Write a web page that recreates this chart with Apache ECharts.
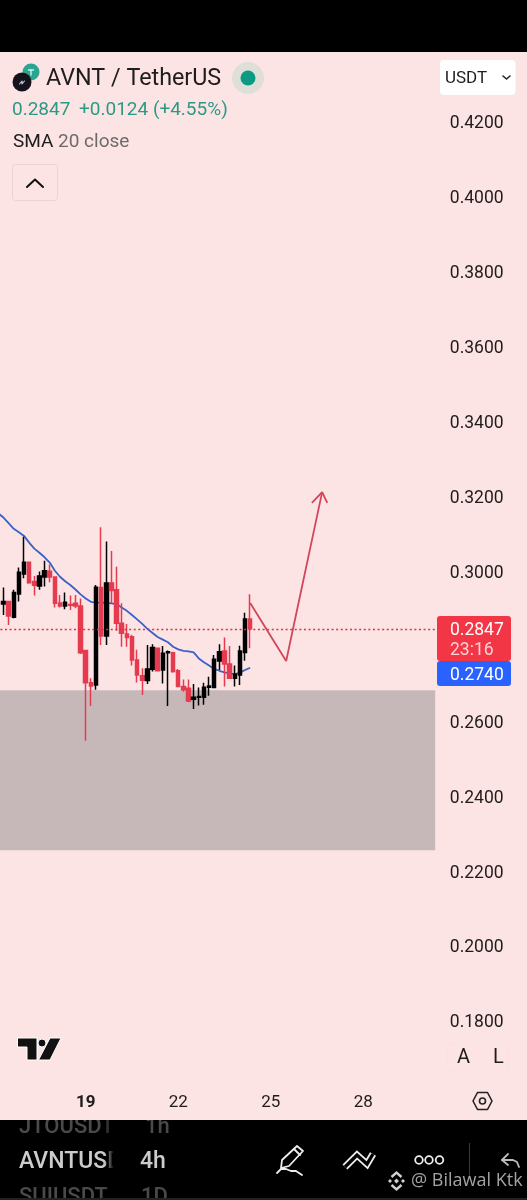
<!DOCTYPE html>
<html><head><meta charset="utf-8">
<style>html,body{margin:0;padding:0;background:#fde4e4}#c{width:527px;height:1200px}</style>
<script src="https://cdn.jsdelivr.net/npm/echarts@6/dist/echarts.min.js"></script>
</head><body><div id="c"></div>
<script>
// index 0 is the partly hidden bar off the left edge
const open  = ['-',0.2913,0.2920,0.2878,0.2940,0.2993,0.3025,0.2973,0.2961,0.2985,0.3001,0.2985,0.2916,0.2908,0.2912,0.2915,0.2908,0.2789,0.2703,0.2697,0.2957,0.2828,0.2969,0.2951,0.2862,0.2833,0.2826,0.2764,0.2722,0.2709,0.2739,0.2795,0.2737,0.2783,0.2783,0.2735,0.2693,0.2688,0.2659,0.2664,0.2664,0.2691,0.2690,0.2761,0.2788,0.2753,0.2715,0.2724,0.2784,0.2873];
const close = ['-',0.2920,0.2881,0.2944,0.2998,0.3025,0.2970,0.2963,0.2988,0.3002,0.2985,0.2915,0.2908,0.2918,0.2910,0.2908,0.2783,0.2703,0.2694,0.2958,0.2828,0.2969,0.2949,0.2862,0.2835,0.2824,0.2764,0.2724,0.2710,0.2740,0.2797,0.2735,0.2782,0.2786,0.2733,0.2693,0.2684,0.2654,0.2664,0.2666,0.2691,0.2694,0.2766,0.2786,0.2753,0.2715,0.2726,0.2788,0.2873,0.2847];
const low   = ['-',0.2884,0.2857,0.2875,0.2920,0.2982,0.2967,0.2936,0.2951,0.2960,0.2971,0.2904,0.2904,0.2899,0.2897,0.2902,0.2780,0.2548,0.2641,0.2684,0.2804,0.2804,0.2915,0.2842,0.2799,0.2799,0.2749,0.2704,0.2670,0.2700,0.2733,0.2734,0.2701,0.2641,0.2730,0.2691,0.2679,0.2651,0.2633,0.2642,0.2644,0.2668,0.2688,0.2737,0.2693,0.2713,0.2693,0.2697,0.2762,0.2795];
const high  = ['-',0.2957,0.2921,0.2951,0.3011,0.3093,0.3025,0.2988,0.3000,0.3029,0.3019,0.2985,0.2937,0.2944,0.2936,0.2937,0.2928,0.2789,0.2715,0.2964,0.3118,0.3080,0.3055,0.3013,0.2915,0.2860,0.2831,0.2791,0.2742,0.2804,0.2806,0.2795,0.2801,0.2789,0.2786,0.2740,0.2712,0.2712,0.2700,0.2690,0.2703,0.2719,0.2777,0.2806,0.2824,0.2801,0.2749,0.2802,0.2890,0.2939];
const sma   = [0.3155,0.3144,0.3129,0.3114,0.3105,0.3095,0.3077,0.3061,0.3050,0.3038,0.3024,0.3002,0.2986,0.2974,0.2964,0.2952,0.2939,0.2928,0.2919,0.2917,0.2917,0.2916,0.2915,0.2913,0.2904,0.2895,0.2884,0.2872,0.2860,0.2847,0.2836,0.2825,0.2818,0.2811,0.2799,0.2792,0.2788,0.2787,0.2784,0.2768,0.2758,0.2749,0.2740,0.2735,0.2731,0.2728,0.2726,0.2730,0.2737,0.2743];
const dayLabels = {17:'19',35:'22',53:'25',71:'28'};
const barCount = 86;
const lastPrice = 0.2847;
const zoneTop = 0.2683, zoneBottom = 0.2256;
const arrowPath = [[49,0.2916],[56,0.2761],[63,0.3212]];
const arrowHead = [[61,0.3183],[63,0.3212],[64,0.3183]];

const categories = Array.from({length:barCount},(_,i)=>dayLabels[i]||'');
const candles = open.map((o,i)=>[o,close[i],low[i],high[i]]);
const RED='#e63b4f', BLACK='#000', INK='#1e1c1c';

function T(x,y,text,font,fill,extra){return {type:'text',x,y:y+2,z:20,style:Object.assign({text,font,fill,textVerticalAlign:'middle'},extra||{})};}
function R(x,y,w,h,fill,z,r,extra){return {type:'rect',z:z,shape:{x,y,width:w,height:h,r:r||0},style:Object.assign({fill},extra||{})};}
function PL(points,style,z){return {type:'polyline',z:z||20,shape:{points},style:Object.assign({fill:null,lineCap:'round',lineJoin:'round'},style)};}
function PG(points,style,z){return {type:'polygon',z:z||20,shape:{points},style:Object.assign({lineJoin:'round'},style)};}
function C(cx,cy,r,style,z){return {type:'circle',z:z||20,shape:{cx,cy,r},style};}

const ICON={stroke:'#eee',lineWidth:1.8};
const NOFILL='rgba(0,0,0,0)';
const graphics=[
  R(0,1120,527,80,'#000',10),
  T(19,1125,'JTOUSDT','500 22px Roboto','#4a4a4a'),
  T(145,1125,'1h','500 22px Roboto','#4a4a4a'),
  T(19,1195,'SUIUSDT','500 22px Roboto','#4a4a4a'),
  T(141,1195,'1D','500 22px Roboto','#4a4a4a'),
  R(0,1112,527,8,'#fde4e4',21),
  R(0,1198,527,2,'#222',23),
  T(19,1160,'AVNTUSD','500 23px Roboto','#cccccc'),
  T(140,1160,'4h','500 23px Roboto','#cccccc'),
  {type:'rect',z:22,shape:{x:104,y:1120,width:14,height:78},style:{fill:new echarts.graphic.LinearGradient(0,0,1,0,[{offset:0,color:'rgba(0,0,0,0)'},{offset:0.7,color:'#000'},{offset:1,color:'#000'}])}},
  R(118,1120,14,78,'#000',22),
  // toolbar icons
  PG([[282,1160],[297,1146],[303,1151],[289,1166],[281,1168]],{fill:NOFILL,stroke:'#eee',lineWidth:1.8}),
  PL([[294,1149],[300,1155]],ICON),
  PL([[277,1173],[281,1169],[286,1169],[291,1171],[296,1171],[302,1175]],ICON),
  PL([[345,1167],[357,1155],[367,1164],[373,1154]],{stroke:'#eee',lineWidth:7,lineCap:'butt',lineJoin:'miter'}),
  PL([[345,1167],[357,1155],[367,1164],[373,1154]],{stroke:'#000',lineWidth:3.4,lineCap:'butt',lineJoin:'miter'},21),
  C(419,1160,3.8,{fill:NOFILL,stroke:'#eee',lineWidth:1.8}),
  C(429,1160,3.8,{fill:NOFILL,stroke:'#eee',lineWidth:1.8}),
  C(439.5,1160,3.8,{fill:NOFILL,stroke:'#eee',lineWidth:1.8}),
  R(469,1143,1,35,'#3a3a3a',20),
  PL([[508,1154],[502,1160],[508,1165]],{stroke:'#bbb',lineWidth:1.8}),
  PL([[502,1160],[513,1160],[517,1162],[519,1167]],{stroke:'#bbb',lineWidth:1.8}),
  // watermark
  PL([[391.5,1177],[396.5,1172.5],[401.5,1177]],{stroke:'#d0d0d0',lineWidth:2.4,lineCap:'butt',lineJoin:'miter'}),
  PL([[391.5,1185],[396.5,1189.5],[401.5,1185]],{stroke:'#d0d0d0',lineWidth:2.4,lineCap:'butt',lineJoin:'miter'}),
  PG([[396.5,1178.5],[399,1181],[396.5,1183.5],[394,1181]],{fill:'#d0d0d0'}),
  PG([[388,1181],[390,1179],[392,1181],[390,1183]],{fill:'#d0d0d0'}),
  PG([[401,1181],[403,1179],[405,1181],[403,1183]],{fill:'#d0d0d0'}),
  {type:'text',x:411,y:1181,z:20,style:{text:'@ Bilawal Ktk',font:'18px "Open Sans"',fill:'#a4a4a4',textVerticalAlign:'middle'}},
  // header
  R(0,0,527,52,'#000',10),
  C(31,72,8.5,{fill:'#2aa58f'}),
  PL([[28.5,70],[33.5,70]],{stroke:'#d6efe9',lineWidth:1.4}),
  PL([[31,70],[31,75]],{stroke:'#d6efe9',lineWidth:1.4}),
  C(22,82,9.5,{fill:'#14121a'}),
  PL([[19.5,84],[22,81],[22,84],[24.5,81]],{stroke:'#c9c6e6',lineWidth:1.1}),
  T(46,77,'AVNT / TetherUS','23.3px Roboto',INK),
  C(248,78,16,{fill:'#dfdfd9'}),
  C(248,78,7.5,{fill:'#0d9a83'}),
  T(12,108,'0.2847','19px Roboto','#2a9a84'),
  T(79,108,'+0.0124 (+4.55%)','19px Roboto','#2a9a84'),
  T(13,140,'SMA','19px Roboto',INK),
  T(58,140,'20 close','19px Roboto','#6f6a6a'),
  R(12.5,164.5,45,36,NOFILL,20,3,{stroke:'#ecd3d3',lineWidth:1}),
  PL([[27,187],[35,179.5],[43,187]],{stroke:'#111',lineWidth:2}),
  R(440,60,75.5,35,'#fff',20,4),
  T(445,76.5,'USDT','17px Roboto',INK),
  PL([[503,76],[506.5,79],[510,76]],{stroke:'#222',lineWidth:1.6}),
  // price tags
  R(437,616,74,45,'#f23645',20,3),
  R(437,661,74,25,'#2962ff',20,3),
  T(450,628.5,'0.2847','17.5px Roboto','#fff'),
  T(450,648.5,'23:16','17.5px Roboto','#fbd3d7'),
  T(450,673.5,'0.2740','17.5px Roboto','#fff'),
  // logo
  PG([[17.5,1038],[37,1038],[37,1060],[27,1060],[27,1047],[17.5,1047]],{fill:'#111',stroke:'#fff',lineWidth:1}),
  C(42,1043,4,{fill:'#111',stroke:'#fff',lineWidth:1}),
  PG([[50,1038],[61,1038],[50,1060],[38.5,1060]],{fill:'#111',stroke:'#fff',lineWidth:1}),
  // A / L and settings
  R(447.5,1043.5,27,28,NOFILL,19,3,{stroke:'#fbe1e1',lineWidth:1}),
  R(482.5,1043.5,26,28,NOFILL,19,3,{stroke:'#fbe1e1',lineWidth:1}),
  T(457,1056,'A','20px Roboto',INK),
  T(493,1056,'L','20px Roboto',INK),
  PG([[473,1101],[477.5,1092.5],[487.5,1092.5],[492,1101],[487.5,1109.5],[477.5,1109.5]],{fill:NOFILL,stroke:'#222',lineWidth:1.6}),
  C(482.5,1101,3,{fill:NOFILL,stroke:'#222',lineWidth:1.6})
];

const chart=echarts.init(document.getElementById('c'),null,{renderer:'canvas'});
chart.setOption({
  animation:false,
  backgroundColor:'#fde4e4',
  grid:{left:-4.24,top:122,width:442.04,height:899,containLabel:false,outerBoundsMode:'none'},
  xAxis:{type:'category',data:categories,boundaryGap:true,
    axisLine:{show:false},axisTick:{show:false},splitLine:{show:false},
    axisLabel:{interval:(i,v)=>v!=='',margin:73,hideOverlap:false,color:INK,fontFamily:'Roboto',fontSize:17,
      formatter:v=>v==='19'?'{b|19}':v,rich:{b:{fontWeight:'bold',fontFamily:'Roboto',fontSize:17,color:INK}}}},
  yAxis:{type:'value',position:'right',min:0.18,max:0.42,interval:0.02,
    axisLine:{show:false},axisTick:{show:false},splitLine:{show:false},
    axisLabel:{margin:12,verticalAlign:'top',lineHeight:4,color:INK,fontFamily:'Roboto',fontSize:17.5,formatter:v=>v.toFixed(4)}},
  series:[
    {type:'line',name:'zone',data:[],z:1,silent:true,
      markArea:{silent:true,z:1,itemStyle:{color:'#c6b8b8',borderWidth:0},
        data:[[{xAxis:0,yAxis:zoneTop},{xAxis:barCount-1,yAxis:zoneBottom}]]}},
    {type:'line',name:'SMA 20 close',data:sma,z:2,showSymbol:false,symbol:'none',lineStyle:{color:'#3a62c6',width:1.8},silent:true},
    {type:'candlestick',name:'AVNT / TetherUS',data:candles,z:3,barWidth:4,silent:true,
      itemStyle:{color:BLACK,color0:RED,borderColor:BLACK,borderColor0:RED,borderWidth:1.5}},
    {type:'line',name:'arrow',data:arrowPath,z:4,symbol:'none',silent:true,lineStyle:{color:'#d2465a',width:1.8},
      markLine:{silent:true,symbol:'none',precision:4,label:{show:false},
        lineStyle:{color:'#e0303f',type:[2,2.6],width:1.3},data:[{yAxis:lastPrice}]}},
    {type:'line',name:'arrowhead',data:arrowHead,z:4,symbol:'none',silent:true,lineStyle:{color:'#d2465a',width:1.8}}
  ],
  graphic:{elements:graphics}
});
</script></body></html>
